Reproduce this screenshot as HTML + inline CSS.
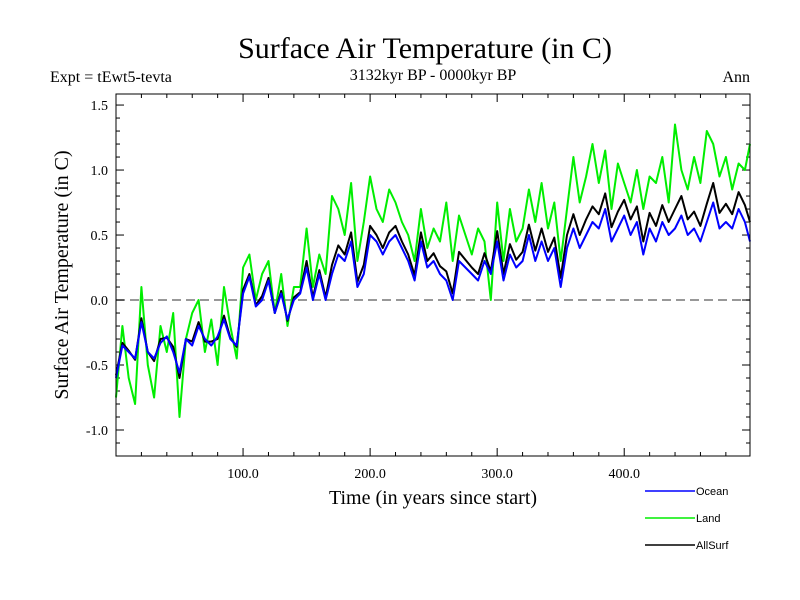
<!DOCTYPE html>
<html><head><meta charset="utf-8"><style>
body{margin:0;background:#fff;}
svg{display:block;}
text{font-family:"Liberation Serif",serif;fill:#000;}
.leg{font-family:"Liberation Sans",sans-serif;font-size:11px;}
</style></head><body>
<svg id="chart" width="800" height="600">
<text x="425" y="58" font-size="30" text-anchor="middle">Surface Air Temperature (in C)</text>
<text x="433" y="80" font-size="16" text-anchor="middle">3132kyr BP - 0000kyr BP</text>
<text x="50" y="82" font-size="16">Expt = tEwt5-tevta</text>
<text x="750" y="82" font-size="16" text-anchor="end">Ann</text>
<text x="433" y="504" font-size="20" text-anchor="middle">Time (in years since start)</text>
<text transform="translate(68,275) rotate(-90)" font-size="20" text-anchor="middle">Surface Air Temperature (in C)</text>
<g id="ticks"></g>
<g id="series"></g>
<rect x="116" y="94" width="634" height="362" fill="none" stroke="#000" stroke-width="1"/>
<g>
<line x1="645" y1="491" x2="695" y2="491" stroke="#0000ff" stroke-width="1.5"/>
<text class="leg" x="696" y="495">Ocean</text>
<line x1="645" y1="518" x2="695" y2="518" stroke="#00ee00" stroke-width="1.5"/>
<text class="leg" x="696" y="522">Land</text>
<line x1="645" y1="545" x2="695" y2="545" stroke="#000" stroke-width="1.5"/>
<text class="leg" x="696" y="549">AllSurf</text>
</g>
</svg>
<script>
const years=[0,5,10,15,20,25,30,35,40,45,50,55,60,65,70,75,80,85,90,95,100,105,110,115,120,125,130,135,140,145,150,155,160,165,170,175,180,185,190,195,200,205,210,215,220,225,230,235,240,245,250,255,260,265,270,275,280,285,290,295,300,305,310,315,320,325,330,335,340,345,350,355,360,365,370,375,380,385,390,395,400,405,410,415,420,425,430,435,440,445,450,455,460,465,470,475,480,485,490,495,499];
const ocean=[-0.6,-0.35,-0.4,-0.45,-0.17,-0.4,-0.45,-0.33,-0.28,-0.4,-0.56,-0.3,-0.35,-0.2,-0.3,-0.35,-0.28,-0.15,-0.3,-0.35,0.05,0.18,-0.05,0.0,0.15,-0.1,0.05,-0.15,0.0,0.05,0.25,0.0,0.2,0.0,0.2,0.35,0.3,0.45,0.1,0.2,0.5,0.45,0.35,0.45,0.5,0.4,0.3,0.15,0.45,0.25,0.3,0.2,0.15,0.0,0.3,0.25,0.2,0.15,0.3,0.2,0.45,0.15,0.35,0.25,0.3,0.5,0.3,0.45,0.3,0.4,0.1,0.4,0.55,0.4,0.5,0.6,0.55,0.7,0.45,0.55,0.65,0.5,0.6,0.35,0.55,0.45,0.6,0.5,0.55,0.65,0.5,0.55,0.45,0.6,0.75,0.55,0.6,0.55,0.7,0.6,0.45];
const land=[-0.75,-0.2,-0.6,-0.8,0.1,-0.5,-0.75,-0.2,-0.4,-0.1,-0.9,-0.3,-0.1,0.0,-0.4,-0.15,-0.5,0.1,-0.2,-0.45,0.25,0.35,0.0,0.2,0.3,-0.1,0.2,-0.2,0.1,0.1,0.55,0.1,0.35,0.2,0.8,0.7,0.5,0.9,0.3,0.6,0.95,0.7,0.6,0.85,0.75,0.6,0.5,0.3,0.7,0.4,0.55,0.45,0.75,0.3,0.65,0.5,0.35,0.55,0.45,0.0,0.75,0.3,0.7,0.45,0.55,0.85,0.6,0.9,0.55,0.75,0.3,0.7,1.1,0.75,0.95,1.2,0.9,1.15,0.7,1.05,0.9,0.75,1.0,0.7,0.95,0.9,1.1,0.75,1.35,1.0,0.85,1.1,0.9,1.3,1.2,0.95,1.1,0.85,1.05,1.0,1.2];
const allsurf=[-0.58,-0.33,-0.39,-0.46,-0.14,-0.4,-0.47,-0.3,-0.29,-0.36,-0.6,-0.3,-0.32,-0.17,-0.32,-0.32,-0.3,-0.12,-0.29,-0.36,0.08,0.2,-0.04,0.03,0.17,-0.1,0.07,-0.16,0.02,0.06,0.3,0.02,0.23,0.02,0.27,0.42,0.35,0.52,0.14,0.27,0.57,0.5,0.4,0.52,0.57,0.45,0.35,0.19,0.52,0.3,0.36,0.26,0.22,0.05,0.37,0.31,0.25,0.2,0.36,0.22,0.53,0.2,0.43,0.31,0.37,0.58,0.38,0.55,0.37,0.48,0.17,0.5,0.66,0.5,0.62,0.72,0.66,0.82,0.56,0.68,0.77,0.62,0.72,0.45,0.67,0.57,0.73,0.6,0.7,0.8,0.62,0.68,0.57,0.74,0.9,0.67,0.74,0.66,0.83,0.73,0.6];
const yTickLabels=["-1.0","-0.5","0.0","0.5","1.0","1.5"];
const yTickValues=[-1.0,-0.5,0.0,0.5,1.0,1.5];
const xTickLabels=["100.0","200.0","300.0","400.0"];
const xTickValues=[100,200,300,400];

const X0=116,X1=750,Y0=94,Y1=456,XMIN=0,XMAX=499,YMIN=-1.2,YMAX=1.585;
function xs(v){return X0+(v-XMIN)/(XMAX-XMIN)*(X1-X0);}
function ys(v){return Y1-(v-YMIN)/(YMAX-YMIN)*(Y1-Y0);}
const NS="http://www.w3.org/2000/svg";
const tg=document.getElementById('ticks');
function line(g,x1,y1,x2,y2,attrs){const l=document.createElementNS(NS,'line');l.setAttribute('x1',x1);l.setAttribute('y1',y1);l.setAttribute('x2',x2);l.setAttribute('y2',y2);for(const k in attrs)l.setAttribute(k,attrs[k]);g.appendChild(l);return l;}
// zero line
const z=line(tg,X0,ys(0),X1,ys(0),{stroke:'#777','stroke-width':1.5,'stroke-dasharray':'9,5'});


// y minor ticks
for(let i=-12;i<=15;i++){const v=i/10;const major=(i%5===0);const len=major?8:4;
const a=line(tg,X0,ys(v),X0+len,ys(v),{stroke:'#000'});


const b=line(tg,X1-len,ys(v),X1,ys(v),{stroke:'#000'});

}
for(let i=1;i<25;i++){const v=i*20;const major=(v%100===0);const len=major?8:4;
const a=line(tg,xs(v),Y1,xs(v),Y1-len,{stroke:'#000'});


const b=line(tg,xs(v),Y0,xs(v),Y0+len,{stroke:'#000'});

}
yTickValues.forEach((v,i)=>{const t=document.createElementNS(NS,'text');t.setAttribute('x',108);t.setAttribute('y',ys(v)+5);t.setAttribute('text-anchor','end');t.setAttribute('font-size','14');t.textContent=yTickLabels[i];


tg.appendChild(t);});
xTickValues.forEach((v,i)=>{const t=document.createElementNS(NS,'text');t.setAttribute('x',xs(v));t.setAttribute('y',478);t.setAttribute('text-anchor','middle');t.setAttribute('font-size','14');t.textContent=xTickLabels[i];


tg.appendChild(t);});
const sg=document.getElementById('series');
function path(vals,color,name){const p=document.createElementNS(NS,'path');
p.setAttribute('d',vals.map((v,i)=>(i?'L':'M')+xs(years[i]).toFixed(1)+','+ys(v).toFixed(1)).join(''));
p.setAttribute('fill','none');p.setAttribute('stroke',color);p.setAttribute('stroke-width','2');p.setAttribute('stroke-linejoin','round');


sg.appendChild(p);}
path(land,'#00ee00','land-series');
path(allsurf,'#000000','allsurf-series');
path(ocean,'#0000ff','ocean-series');
</script>
</body></html>
